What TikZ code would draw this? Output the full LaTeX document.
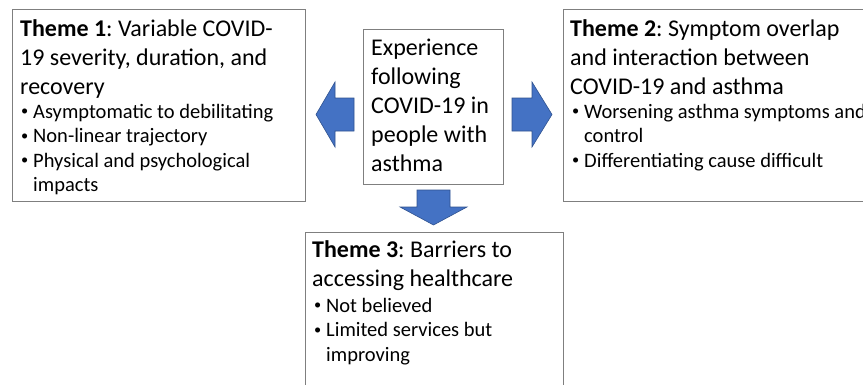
\documentclass[tikz,border=0pt]{standalone}
\usepackage{graphicx}
\usepackage{fontspec}
\setmainfont{Carlito}
\frenchspacing
\definecolor{boxline}{HTML}{7F7F7F}
\definecolor{arrowfill}{HTML}{4472C4}
\definecolor{arrowline}{HTML}{2F528F}
\newcommand{\bul}[1]{\hbox{\makebox[13pt][l]{\hspace{1pt}\raisebox{0.1em}{\scalebox{0.7}{\textbullet}}}#1}}
\newcommand{\cont}[1]{\hbox{\hspace*{13pt}#1}}
\newcommand{\tline}[1]{\hbox{#1}}
\begin{document}
\begin{tikzpicture}[x=1pt,y=-1pt,
  themebox/.style={draw=boxline,line width=0.8pt,fill=white},
  headtext/.style={inner sep=0pt,anchor=base west,font=\fontsize{24}{29}\selectfont\frenchspacing},
  bullettext/.style={inner sep=0pt,anchor=base west,font=\fontsize{20.5}{24.5}\selectfont},
  blockarrow/.style={fill=arrowfill,draw=arrowline,line width=0.6pt}]
\useasboundingbox (0,0) rectangle (863,384);
% boxes
\draw[themebox] (12,9) rectangle (305,201);
\draw[themebox] (563,9) rectangle (875,201);
\draw[themebox] (305,232) rectangle (563,395);
\draw[themebox] (363,29) rectangle (503,184);
% center text
\node[headtext] (center) at (371,55) {\vtop{\tline{Experience}\tline{following}\tline{COVID-19 in}\tline{people with}\tline{asthma}}};
% theme 1
\node[headtext] (t1h) at (20,36) {\vtop{\tline{\textbf{Theme 1}: Variable COVID-}\tline{19 severity, duration, and}\tline{recovery}}};
\node[bullettext] (t1b) at (20,118) {\vtop{\bul{Asymptomatic to debilitating}\bul{Non-linear trajectory}\bul{Physical and psychological}\cont{impacts}}};
% theme 2
\node[headtext] (t2h) at (570,36) {\vtop{\tline{\textbf{Theme 2}: Symptom overlap}\tline{and interaction between}\tline{COVID-19 and asthma}}};
\node[bullettext] (t2b) at (571,118) {\vtop{\bul{Worsening asthma symptoms and}\cont{control}\bul{Differentiating cause difficult}}};
% theme 3
\node[headtext] (t3h) at (312,257) {\vtop{\tline{\textbf{Theme 3}: Barriers to}\tline{accessing healthcare}}};
\node[bullettext] (t3b) at (313,312) {\vtop{\bul{Not believed}\bul{Limited services but}\cont{improving}}};
% arrows
\draw[blockarrow] (316,114.5) -- (335,82) -- (335,98) -- (354,98) -- (354,131) -- (335,131) -- (335,147) -- cycle;
\draw[blockarrow] (552,114.5) -- (532,82) -- (532,98) -- (512,98) -- (512,131) -- (532,131) -- (532,147) -- cycle;
\draw[blockarrow] (433.5,225) -- (400,207) -- (417,207) -- (417,190) -- (450,190) -- (450,207) -- (467,207) -- cycle;
\end{tikzpicture}
\end{document}
